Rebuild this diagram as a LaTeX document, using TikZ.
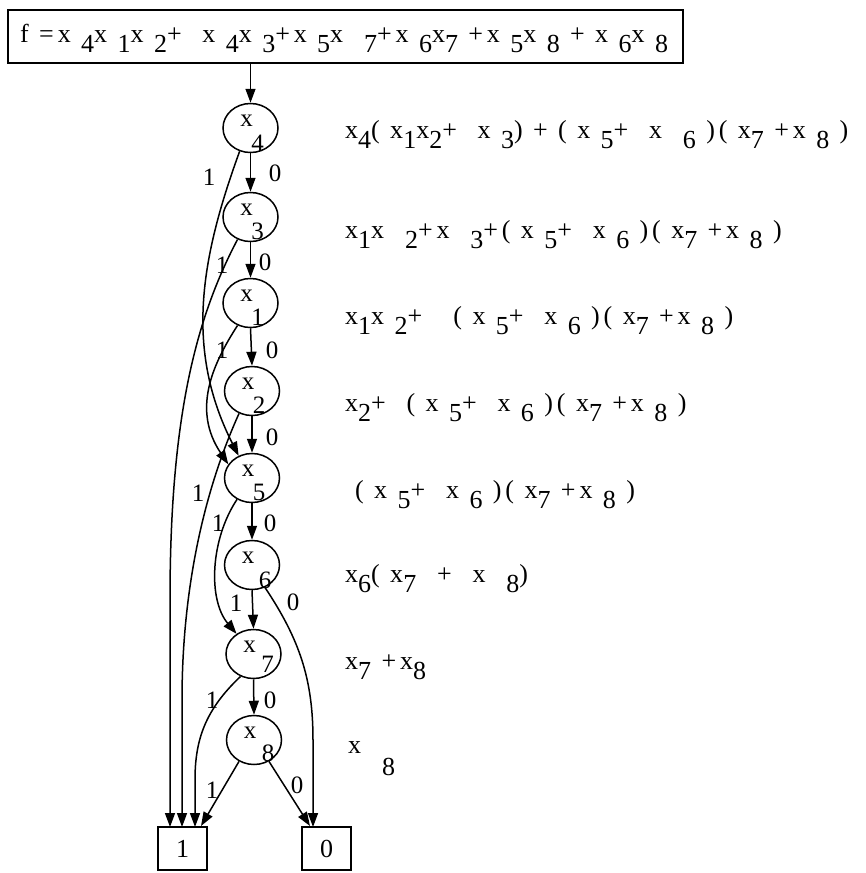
\documentclass[tikz,border=0pt]{standalone}
\usepackage{fontspec}
\setmainfont{Liberation Serif}
\newfontfamily\widefont[LetterSpace=15]{Liberation Serif}
\usetikzlibrary{arrows.meta,shapes.geometric,calc}
\tikzset{
 bnode/.style={draw,ellipse,minimum width=55pt,minimum height=49pt,inner sep=0pt,line width=1.5pt},
 tbox/.style={draw,rectangle,line width=1.5pt,inner sep=0pt,minimum width=49pt,minimum height=43pt,font=\fontsize{26}{28}\selectfont},
 arr/.style={line width=1.5pt,-{Triangle[length=14pt,width=10pt]}},
 lbl/.style={font=\fontsize{25}{28}\selectfont,inner sep=0pt},
 txt/.style={font=\widefont\fontsize{26}{30}\selectfont,inner sep=0pt,anchor=base west},
}
\newcommand\dd[1]{\raisebox{-10pt}{#1}}
\newcommand\bdd[6]{%
  \node[bnode] (#1) at (#2,#3) {};
  \node[lbl] at ($(#1)+(-4,-7)$) {x};
  \node[lbl] at ($(#1)+(#5,#6)$) {#4};
}
\begin{document}
\begin{tikzpicture}[x=1pt,y=-1pt]
\useasboundingbox (0,0) rectangle (865,873);
\node[draw,line width=1.5pt,inner sep=0pt,minimum width=675pt,minimum height=53pt] (top) at (345.5,36.5) {};
\node[txt] (toptext) at (20,42) {f =x \dd{4}x \dd{1}x \dd{2}+ \ x \dd{4}x \dd{3}+x \dd{5}x \ \dd{7}+x \dd{6}x\dd{7} +x \dd{5}x \dd{8} + x \dd{6}x \dd{8}};

\bdd{n4}{250.5}{128}{4}{7}{15}
\bdd{n3}{250.5}{217}{3}{7}{14}
\bdd{n1}{250.5}{303}{1}{7}{14}
\bdd{n2}{252}{391}{2}{7}{14}
\bdd{n5}{252}{478}{5}{7}{14}
\bdd{n6}{252}{565}{6}{13}{15}
\bdd{n7}{253.5}{654}{7}{14}{10}
\bdd{n8}{254}{740}{8}{14}{13}

\node[tbox] (t1) at (182.5,848.5) {1};
\node[tbox] (t0) at (326.5,848.5) {0};

% top to x4
\draw[arr] (top.south -| n4.north) -- (n4.north);
% straight edges
\draw[arr] (n4.south) -- (n3.north);
\draw[arr] (n3.south) -- (n1.north);
\draw[arr] (n1.south) -- (n2.north);
\draw[arr] (n2.south) -- (n5.north);
\draw[arr] (n5.south) -- (n6.north);
\draw[arr] (n6.south) -- (n7.north);
\draw[arr] (n7.south) -- (n8.north);
% curved edges
\draw[arr] (n4.245) .. controls (200,260) and (185,350) .. (n5.121);
\draw[arr] (n3.240) .. controls (195,320) and (170,420) .. (170,600) -- (170,827);
\draw[arr] (n1.240) .. controls (212,365) and (192,410) .. (n5.150);
\draw[arr] (n2.240) .. controls (200,500) and (182,600) .. (182,700) -- (182,827);
\draw[arr] (n5.235) .. controls (210,540) and (208,600) .. (n7.130);
\draw[arr] (n6.300) .. controls (300,640) and (313,680) .. (313,740) -- (313,827);
\draw[arr] (n7.240) .. controls (205,710) and (195,740) .. (195,780) -- (195,827);
\draw[arr] (n8.235) -- (201,826);
\draw[arr] (n8.305) -- (310,826);

% edge labels
\node[lbl] at (209,177) {1};
\node[lbl] at (275,173) {0};
\node[lbl] at (222,265) {1};
\node[lbl] at (265,262) {0};
\node[lbl] at (222,350) {1};
\node[lbl] at (272,350) {0};
\node[lbl] at (198,493) {1};
\node[lbl] at (272,437) {0};
\node[lbl] at (218,523) {1};
\node[lbl] at (270,523) {0};
\node[lbl] at (236,603) {1};
\node[lbl] at (293,602) {0};
\node[lbl] at (212,700) {1};
\node[lbl] at (270,700) {0};
\node[lbl] at (212,790) {1};
\node[lbl] at (297,785) {0};

% right-hand functions
\node[txt] (f4) at (345,138) {x\dd4( x\dd1x\dd2+ \ x \dd3) + ( x \dd5+ \ x \ \dd6 )( x\dd7 +x \dd8 )};
\node[txt] (f3) at (345,238) {x\dd1x \ \dd2+x \ \dd3+( x \dd5+ \ x \dd6 )( x\dd7 +x \dd8 )};
\node[txt] (f1) at (345,324) {x\dd1x \dd2+ \ \ ( x \dd5+ \ x \dd6 )( x\dd7 +x \dd8 )};
\node[txt] (f2) at (345,411) {x\dd2+ \ ( x \dd5+ \ x \dd6 )( x\dd7 +x \dd8 )};
\node[txt] (f5) at (355,498) {( x \dd5+ \ x \dd6 )( x\dd7 +x \dd8 )};
\node[txt] (f6) at (345,582) {x\dd6(\ x\dd7\ \ +\ \ x\ \ \dd8)};
\node[txt] (f7) at (345,669) {x\dd7 +x\dd8};
\node[txt] (f8) at (348,753) {x \ \raisebox{-22pt}{8}};
\end{tikzpicture}
\end{document}
